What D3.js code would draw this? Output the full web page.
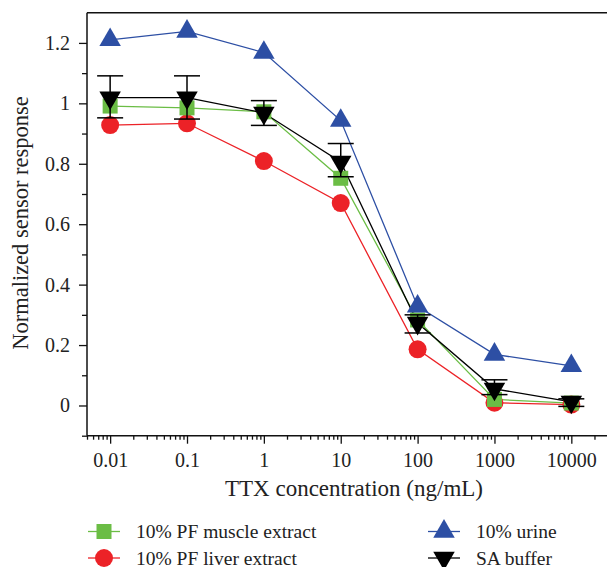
<!DOCTYPE html>
<html>
<head>
<meta charset="utf-8">
<script src="https://cdn.jsdelivr.net/npm/d3@7"></script>
<style>
  body { margin: 0; background: #fff; }
  svg text { font-family: "Liberation Serif", "DejaVu Serif", serif; fill: #222; }
</style>
</head>
<body>
<svg id="chart" width="607" height="567"></svg>
<script>
// TTX concentrations (ng/mL)
var concentrations = [0.01, 0.1, 1, 10, 100, 1000, 10000];
var xTickLabels = ['0.01', '0.1', '1', '10', '100', '1000', '10000'];
var yTickValues = [0, 0.2, 0.4, 0.6, 0.8, 1, 1.2];

// Normalized sensor response per sample matrix
var muscleValues = [0.991, 0.985, 0.972, 0.752, 0.283, 0.020, 0.008];
var liverValues = [0.928, 0.934, 0.809, 0.670, 0.186, 0.009, 0.003];
var urineValues = [1.210, 1.238, 1.168, 0.943, 0.328, 0.169, 0.131];
var bufferValues = [1.019, 1.019, 0.968, 0.806, 0.273, 0.055, 0.012];
// Error bars (SA buffer only)
var bufferLow = [0.952, 0.948, 0.927, 0.757, 0.240, 0.036, -0.003];
var bufferHigh = [1.091, 1.091, 1.009, 0.867, 0.300, 0.085, 0.022];

var seriesNames = ['10% PF muscle extract', '10% PF liver extract', '10% urine', 'SA buffer'];

var svg = d3.select('#chart');

var x = d3.scaleLog().domain([0.005, 30000]).range([87, 608]);
var y = d3.scaleLinear().domain([-0.1, 1.3]).range([435.7, 12.7]);

// Series definitions (order = draw order)
var series = [
  { name: seriesNames[1], values: liverValues, color: '#ec2227', symbol: d3.symbolCircle, size: 254, rotate: 0 },
  { name: seriesNames[0], values: muscleValues, color: '#6bbd45', symbol: d3.symbolSquare, size: 225, rotate: 0 },
  { name: seriesNames[2], values: urineValues, color: '#2d4fa4', symbol: d3.symbolTriangle, size: 200, rotate: 0 },
  { name: seriesNames[3], values: bufferValues, color: '#000000', symbol: d3.symbolTriangle, size: 200, rotate: 180 }
];

// Frame: top line
svg.append('line')
  .attr('x1', 87).attr('x2', 607)
  .attr('y1', 12.7).attr('y2', 12.7)
  .attr('stroke', '#111').attr('stroke-width', 1.5);

// Y axis
var yAxis = d3.axisLeft(y).tickValues(yTickValues)
  .tickFormat(function(d) { return d3.format('')(d); })
  .tickSize(8).tickPadding(9);
var gy = svg.append('g').attr('transform', 'translate(87,0)').call(yAxis);
gy.select('.domain').attr('d', 'M0,' + y(1.3) + 'V' + y(-0.1));
svg.append('g').attr('transform', 'translate(87,0)')
  .call(d3.axisLeft(y).tickValues([-0.1, 0.1, 0.3, 0.5, 0.7, 0.9, 1.1]).tickSize(5).tickFormat(''))
  .select('.domain').remove();

// X axis
var xAxis = d3.axisBottom(x).tickValues(concentrations)
  .tickFormat(function(d, i) { return xTickLabels[i]; })
  .tickSize(8).tickPadding(9);
var gx = svg.append('g').attr('transform', 'translate(0,435.7)').call(xAxis);
gx.select('.domain').attr('d', 'M87,0H607');

var minorX = [];
[0.001, 0.01, 0.1, 1, 10, 100, 1000, 10000].forEach(function(dec) {
  for (var k = 2; k <= 9; k++) {
    var v = dec * k;
    if (v >= 0.005 && v <= 30000) minorX.push(v);
  }
});
svg.append('g').attr('transform', 'translate(0,435.7)')
  .call(d3.axisBottom(x).tickValues(minorX).tickSize(4).tickFormat(''))
  .select('.domain').remove();

svg.selectAll('.tick line').attr('stroke', '#111').attr('stroke-width', 1.3);
svg.selectAll('.domain').attr('stroke', '#111').attr('stroke-width', 1.5);
svg.selectAll('.tick text').attr('font-size', 20).attr('fill', '#222')
  .style('font-family', '"Liberation Serif", serif');

// Axis titles
svg.append('text')
  .attr('x', 354).attr('y', 496)
  .attr('text-anchor', 'middle').attr('font-size', 23)
  .text('TTX concentration (ng/mL)');
svg.append('text')
  .attr('transform', 'translate(28,223) rotate(-90)')
  .attr('text-anchor', 'middle').attr('font-size', 22.5)
  .text('Normalized sensor response');

var line = d3.line()
  .x(function(d, i) { return x(concentrations[i]); })
  .y(function(d) { return y(d); });

// Lines
series.forEach(function(s) {
  svg.append('path')
    .datum(s.values)
    .attr('d', line)
    .attr('fill', 'none')
    .attr('stroke', s.color)
    .attr('stroke-width', 1.3);
});

// Markers and error bars
series.forEach(function(s) {
  if (s.name === 'SA buffer') {
    var eb = svg.append('g').attr('stroke', '#000').attr('stroke-width', 1.5);
    concentrations.forEach(function(c, i) {
      var cx = x(c);
      eb.append('line').attr('x1', cx).attr('x2', cx)
        .attr('y1', y(bufferLow[i])).attr('y2', y(bufferHigh[i]));
      eb.append('line').attr('x1', cx - 13).attr('x2', cx + 13)
        .attr('y1', y(bufferLow[i])).attr('y2', y(bufferLow[i]));
      eb.append('line').attr('x1', cx - 13).attr('x2', cx + 13)
        .attr('y1', y(bufferHigh[i])).attr('y2', y(bufferHigh[i]));
    });
  }
  svg.append('g').selectAll('path')
    .data(s.values)
    .join('path')
    .attr('d', d3.symbol().type(s.symbol).size(s.size))
    .attr('transform', function(d, i) {
      return 'translate(' + x(concentrations[i]) + ',' + y(d) + ') rotate(' + s.rotate + ')';
    })
    .attr('fill', s.color);
});

// Legend
var legendItems = [
  { s: series[1], lx: 88, ly: 531.5 },
  { s: series[0], lx: 88, ly: 558 },
  { s: series[2], lx: 428, ly: 531.5 },
  { s: series[3], lx: 428, ly: 558 }
];
var lg = svg.append('g');
legendItems.forEach(function(it) {
  lg.append('line')
    .attr('x1', it.lx).attr('x2', it.lx + 32)
    .attr('y1', it.ly).attr('y2', it.ly)
    .attr('stroke', it.s.color).attr('stroke-width', 1.3);
  lg.append('path')
    .attr('d', d3.symbol().type(it.s.symbol).size(it.s.size)())
    .attr('transform', 'translate(' + (it.lx + 16) + ',' + it.ly + ') rotate(' + it.s.rotate + ')')
    .attr('fill', it.s.color);
  lg.append('text')
    .attr('x', it.lx + 48).attr('y', it.ly + 6.5)
    .attr('font-size', 19.5)
    .text(it.s.name);
});
</script>
</body>
</html>
